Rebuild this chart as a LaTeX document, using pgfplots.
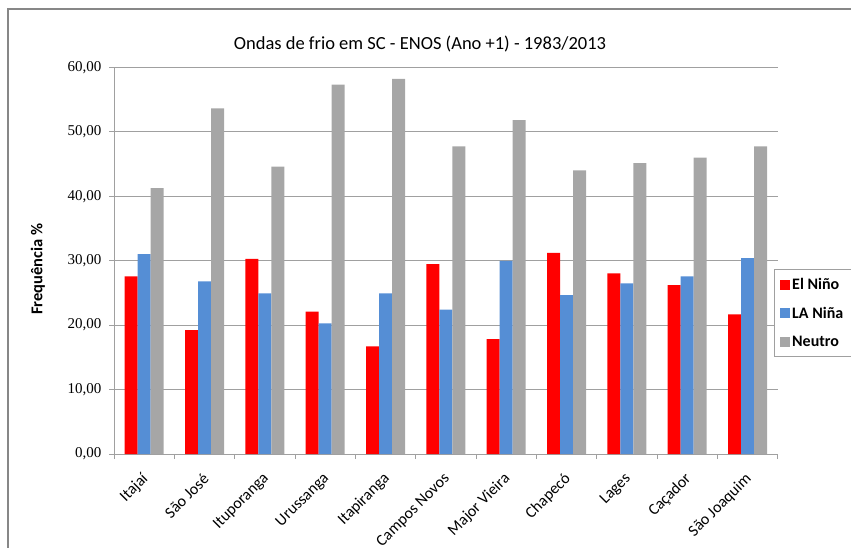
\documentclass[border=0pt]{standalone}
\usepackage{fontspec}
\setmainfont{Carlito}
\newfontfamily\tickfont{Liberation Serif}
\usepackage{pgfplots}
\pgfplotsset{compat=1.18}
\definecolor{cred}{HTML}{FF0000}
\definecolor{cblue}{HTML}{558ED5}
\definecolor{cgray}{HTML}{A6A6A6}
\definecolor{cgrid}{HTML}{A0A0A0}
\definecolor{cframe}{HTML}{878787}
\pgfplotsset{
  sqlegend/.style={legend image code/.code={\fill[##1] (0pt,-5pt) rectangle (10pt,5pt);}}
}
\begin{document}
\begin{tikzpicture}[x=1pt,y=1pt]
\useasboundingbox (0,0) rectangle (851,547);
\draw[cframe, line width=1.5pt] (8,-5) -- (8,538) -- (860,538);
\node[font=\fontsize{18.5}{22}\selectfont] at (420,503) {Ondas de frio em SC - ENOS (Ano +1) - 1983/2013};
\node[rotate=90, font=\bfseries\fontsize{16.5}{20}\selectfont] at (38,278) {Frequência \%};
\begin{axis}[
  at={(114pt,93pt)}, anchor=south west,
  scale only axis, width=663.7pt, height=386.7pt,
  xmin=-0.5, xmax=10.5, ymin=0, ymax=60,
  ybar=0pt, bar width=13pt,
  axis x line*=bottom, axis y line*=left,
  axis line style={draw=cgrid, line width=0.8pt},
  xtick={-0.5,0.5,...,10.5},
  x tick label as interval,
  xticklabels={Itajaí,São José,Ituporanga,Urussanga,Itapiranga,Campos Novos,Major Vieira,Chapecó,Lages,Caçador,São Joaquim},
  xticklabel style={xshift=4pt, yshift=-15pt, rotate=45, anchor=east, font=\fontsize{16}{19}\selectfont},
  ytick={0,10,...,60},
  yticklabels={{0,00},{10,00},{20,00},{30,00},{40,00},{50,00},{60,00}},
  yticklabel style={font=\tickfont\fontsize{15}{18}\selectfont, xshift=-4pt},
  tick align=outside, major tick length=5pt,
  tick style={draw=cgrid, line width=0.8pt},
  ymajorgrids, grid style={draw=cgrid, line width=0.8pt},
  legend style={at={(axis description cs:0.9944,0.478)}, anchor=north west,
    draw=cgrid, fill=white, font=\bfseries\fontsize{16}{19}\selectfont,
    inner xsep=6pt, inner ysep=7pt, row sep=12pt, legend cell align=left},
  sqlegend,
]
\addplot[fill=cred, draw=none] coordinates {(0,27.57) (1,19.24) (2,30.26) (3,22.08) (4,16.70) (5,29.48) (6,17.84) (7,31.19) (8,28.03) (9,26.22) (10,21.67)};
\addplot[fill=cblue, draw=none] coordinates {(0,31.03) (1,26.79) (2,24.93) (3,20.28) (4,24.93) (5,22.39) (6,29.95) (7,24.67) (8,26.48) (9,27.57) (10,30.41)};
\addplot[fill=cgray, draw=none] coordinates {(0,41.27) (1,53.63) (2,44.58) (3,57.30) (4,58.19) (5,47.74) (6,51.82) (7,44.01) (8,45.15) (9,45.98) (10,47.74)};
\legend{El Niño,LA Niña,Neutro}
\end{axis}
\end{tikzpicture}
\end{document}
